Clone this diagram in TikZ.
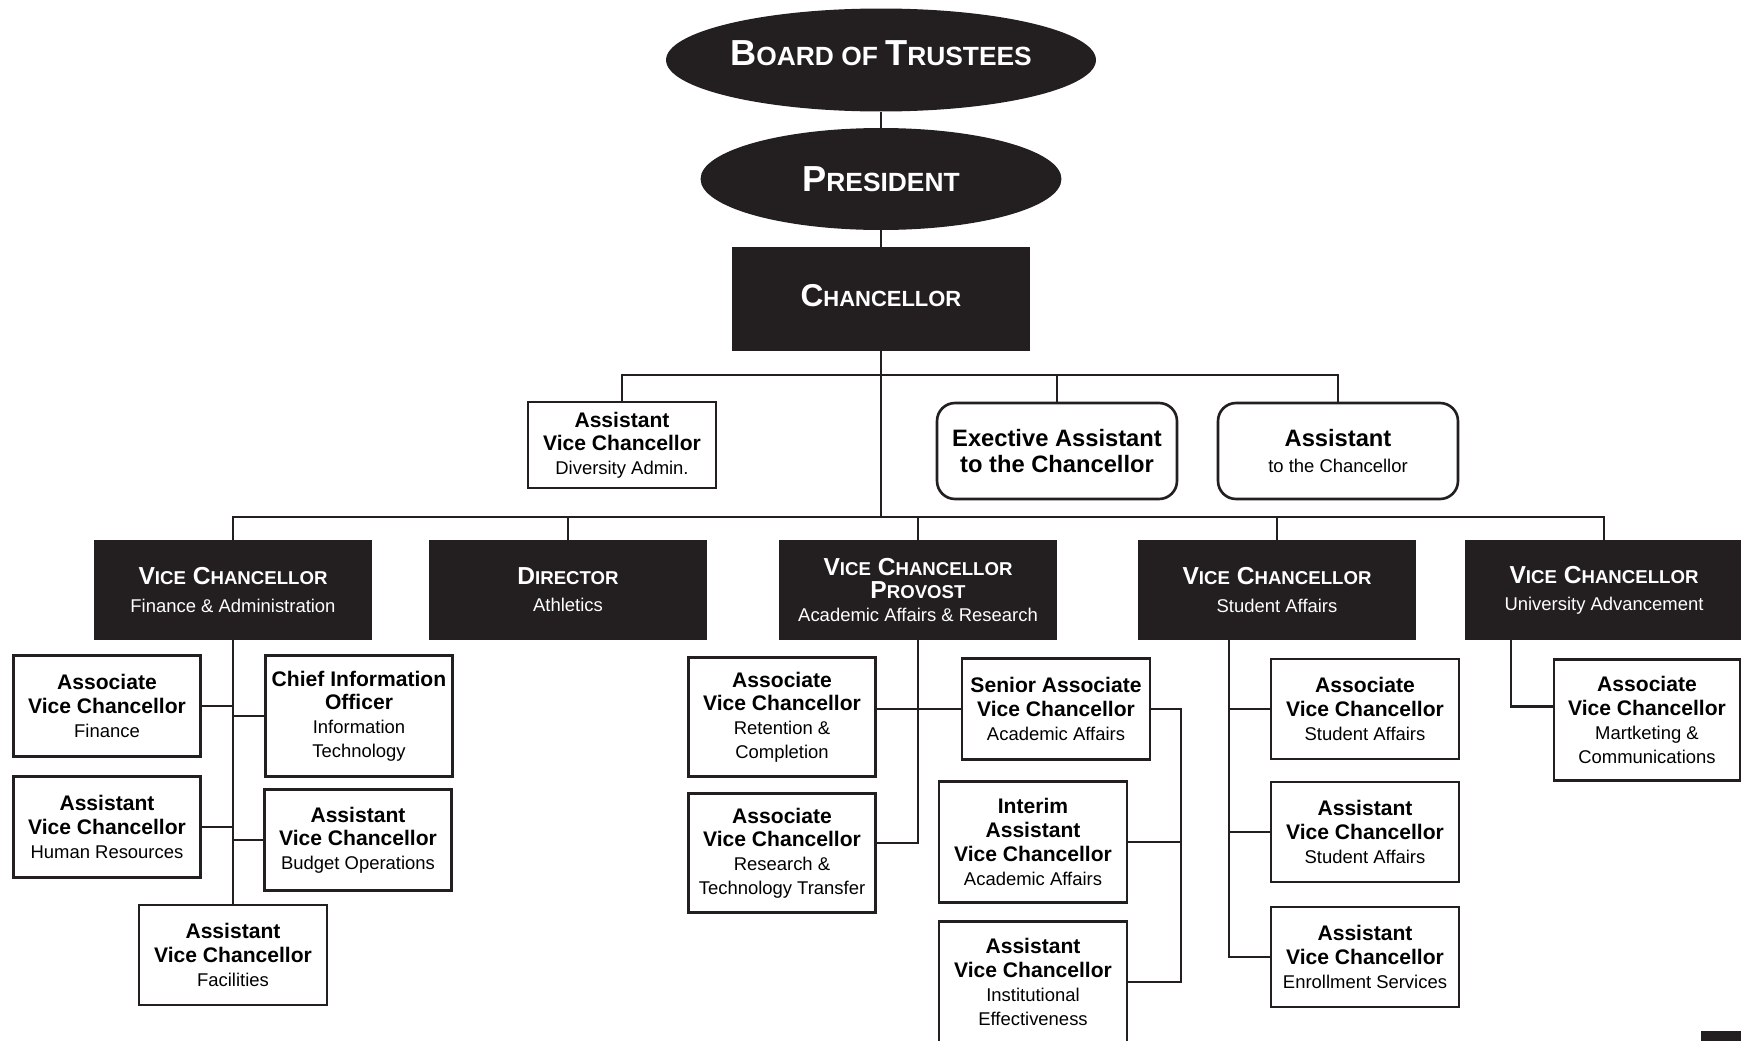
\documentclass[tikz,border=0pt]{standalone}
\usepackage{fontspec}
\setmainfont{Liberation Sans}
\usetikzlibrary{shapes.geometric}
\definecolor{boxblack}{RGB}{35,31,32}
\def\scbig{14}
\def\scsmall{10.6}
\newcommand{\fakesc}[2]{{\fontsize{\scbig}{\scbig}\selectfont #1}{\fontsize{\scsmall}{\scsmall}\selectfont #2}}
\newcommand{\subtext}{\fontsize{10.5}{12}\selectfont\mdseries}

\begin{document}
\begin{tikzpicture}[x=0.02cm, y=-0.02cm,
			head/.style={ellipse, fill=boxblack, text=white, align=center, inner xsep=0pt},
			leader/.style={rectangle, fill=boxblack, text=white, align=center, minimum width=5.56cm, minimum height=2cm,
				font=\def\scbig{14}\def\scsmall{10.6}\fontsize{14}{15.5}\selectfont\bfseries},
			office/.style={draw=boxblack, rectangle, line width=1.5pt, align=center, minimum width=3.74cm, minimum height=2.02cm,
				font=\fontsize{12}{13.5}\selectfont\bfseries},
			aide/.style={office, rounded corners=0.36cm, minimum width=4.8cm, minimum height=1.92cm,
				font=\fontsize{13.5}{15}\selectfont\bfseries},
			link/.style={draw=boxblack, line width=1.4pt}]
			\clip (0,0) rectangle (1741,1041);

			\node[head, minimum width=8.6cm, minimum height=2.06cm, text depth=0.28cm,
				font=\def\scbig{20.6}\def\scsmall{15}\fontsize{15}{18}\selectfont\bfseries](node1) at (881,60) {\fakesc{B}{OARD} \fakesc{}{OF} \fakesc{T}{RUSTEES}};
			\node[head, minimum width=7.22cm, minimum height=2.04cm,
				font=\def\scbig{20.6}\def\scsmall{15}\fontsize{15}{18}\selectfont\bfseries](node2) at (881,179) {\fakesc{P}{RESIDENT}};
			\node[leader, minimum width=5.98cm, minimum height=2.08cm, text depth=0.16cm,
				font=\def\scbig{18}\def\scsmall{12.5}\fontsize{12.5}{15}\selectfont\bfseries](node3) at (881,299) {\fakesc{C}{HANCELLOR}};
			\draw[link] (node1) -- (node2);
			\draw[link] (node2) -- (node3);

			\coordinate (bus1) at (881,375);
			\coordinate (bus2) at (881,517);
			\coordinate (bus3) at (1181,709);

			\node[office, minimum width=3.76cm, minimum height=1.72cm](node4) at (622,445) {Assistant\\Vice Chancellor\\{\subtext Diversity Admin.}};
			\node[aide](node5) at (1057,451) {Exective Assistant\\to the Chancellor};
			\node[aide](node6) at (1338,451) {Assistant\\{\subtext to the Chancellor}};
			\draw[link] (node3.south) -- (bus2);
			\draw[link] (node4.north) |- (bus1) -| (node6.north);
			\draw[link] (node5.north) -- (node5.north |- bus1);

			\node[leader](node7) at (233,590) {\fakesc{V}{ICE} \fakesc{C}{HANCELLOR}\\{\subtext Finance \& Administration}};
			\node[leader](node8) at (568,590) {\fakesc{D}{IRECTOR}\\{\subtext Athletics}};
			\node[leader, font=\def\scbig{14}\def\scsmall{10.6}\fontsize{14}{13}\selectfont\bfseries](node9) at (918,590) {\fakesc{V}{ICE} \fakesc{C}{HANCELLOR}\\\fakesc{P}{ROVOST}\\{\subtext Academic Affairs \& Research}};
			\node[leader](node10) at (1277,590) {\fakesc{V}{ICE} \fakesc{C}{HANCELLOR}\\{\subtext Student Affairs}};
			\node[leader](node11) at (1604,590) {\fakesc{V}{ICE} \fakesc{C}{HANCELLOR}\\{\subtext University Advancement}};
			\draw[link] (node7.north) |- (bus2) -| (node11.north);
			\draw[link] (node8.north) -- (node8.north |- bus2);
			\draw[link] (node9.north) -- (node9.north |- bus2);
			\draw[link] (node10.north) -- (node10.north |- bus2);

			\node[office](node12) at (107,706) {Associate\\Vice Chancellor\\{\subtext Finance}};
			\node[office, minimum height=2.42cm](node13) at (359,716) {Chief Information\\Officer\\{\subtext Information}\\{\subtext Technology}};
			\node[office](node14) at (107,827) {Assistant\\Vice Chancellor\\{\subtext Human Resources}};
			\node[office](node15) at (358,840) {Assistant\\Vice Chancellor\\{\subtext Budget Operations}};
			\node[office, minimum width=3.76cm, minimum height=2cm](node16) at (233,955) {Assistant\\Vice Chancellor\\{\subtext Facilities}};
			\draw[link] (node7.south) -- (node16.north);
			\draw[link] (node12.east) -- (node12.east -| node7.south);
			\draw[link] (node13.west) -- (node13.west -| node7.south);
			\draw[link] (node14.east) -- (node14.east -| node7.south);
			\draw[link] (node15.west) -- (node15.west -| node7.south);

			\node[office, minimum height=2.38cm](node17) at (782,717) {Associate\\Vice Chancellor\\{\subtext Retention \&}\\{\subtext Completion}};
			\node[office, minimum width=3.76cm](node18) at (1056,709) {Senior Associate\\Vice Chancellor\\{\subtext Academic Affairs}};
			\node[office, minimum height=2.38cm](node19) at (782,853) {Associate\\Vice Chancellor\\{\subtext Research \&}\\{\subtext Technology Transfer}};
			\node[office, minimum width=3.76cm, minimum height=2.42cm](node20) at (1033,842) {Interim\\Assistant\\Vice Chancellor\\{\subtext Academic Affairs}};
			\node[office, minimum width=3.76cm, minimum height=2.42cm](node21) at (1033,982) {Assistant\\Vice Chancellor\\{\subtext Institutional}\\{\subtext Effectiveness}};
			\draw[link] (node9.south) |- ([yshift=0.2cm]node19.east);
			\draw[link] (node17.east |- node18.west) -- (node18.west);
			\draw[link] (node18.east) -| (bus3) |- (node21.east);
			\draw[link] (node20.east) -- (node20.east -| bus3);

			\node[office, minimum width=3.76cm, minimum height=2cm](node22) at (1365,709) {Associate\\Vice Chancellor\\{\subtext Student Affairs}};
			\node[office, minimum width=3.76cm, minimum height=2cm](node23) at (1365,832) {Assistant\\Vice Chancellor\\{\subtext Student Affairs}};
			\node[office, minimum width=3.76cm, minimum height=2cm](node24) at (1365,957) {Assistant\\Vice Chancellor\\{\subtext Enrollment Services}};
			\draw[link] ([xshift=-0.96cm]node10.south) |- (node24.west);
			\draw[link] (node22.west) -- ([xshift=-0.84cm]node22.west);
			\draw[link] (node23.west) -- ([xshift=-0.84cm]node23.west);

			\node[office, minimum width=3.72cm, minimum height=2.42cm](node25) at (1647,720) {Associate\\Vice Chancellor\\{\subtext Martketing \&}\\{\subtext Communications}};
			\draw[link] ([xshift=-1.86cm]node11.south) |- ([yshift=0.27cm]node25.west);

			\fill[boxblack] (1701,1031) rectangle (1760,1060);
			\end{tikzpicture}
\end{document}
